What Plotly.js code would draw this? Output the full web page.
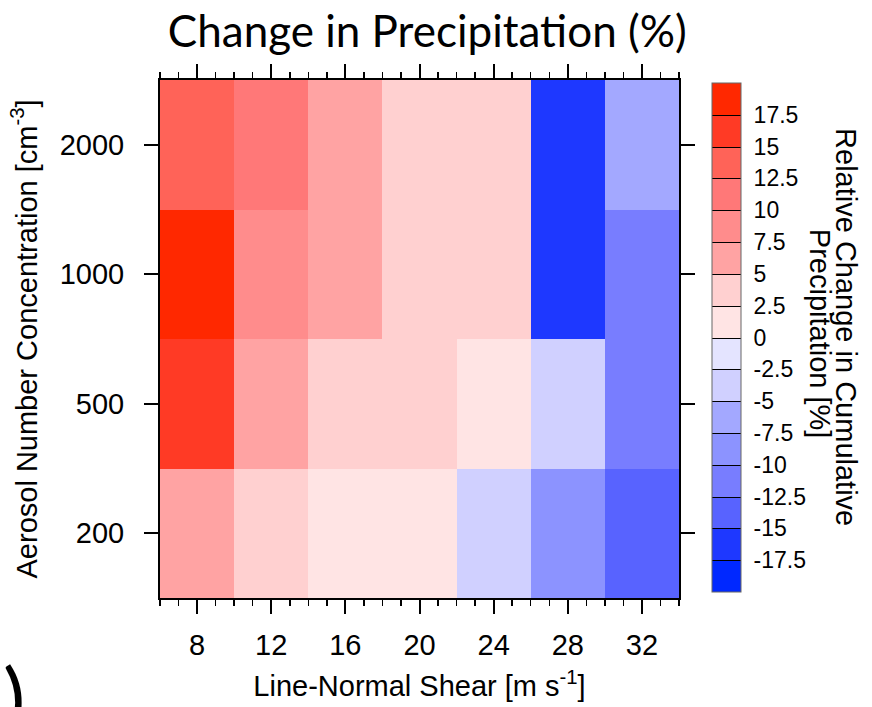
<!DOCTYPE html>
<html>
<head>
<meta charset="utf-8">
<script src="https://cdn.plot.ly/plotly-3.0.1.min.js"></script>
<style>
  html, body { margin: 0; padding: 0; background: #fff; }
  #chart { width: 872px; height: 707px; }
</style>
</head>
<body>
<div id="chart"></div>
<script>
// Line-normal shear (m/s) for each column of the grid
const shear = [8, 12, 16, 20, 24, 28, 32];
// Aerosol number concentration (cm^-3) for each row, bottom to top
const aerosol = ['200', '500', '1000', '2000'];
// Relative change in cumulative precipitation (%), one row per aerosol level
const change200  = [6.0, 3.5, 1.0, 1.0, -3.5, -8.5, -13.5];
const change500  = [16.0, 6.0, 3.5, 3.5, 1.0, -3.5, -11.0];
const change1000 = [18.5, 8.5, 6.0, 3.5, 3.5, -16.0, -11.0];
const change2000 = [13.5, 11.0, 6.0, 3.5, 3.5, -16.0, -6.0];
// Contour levels shown on the colour bar
const levels = [-17.5, -15, -12.5, -10, -7.5, -5, -2.5, 0, 2.5, 5, 7.5, 10, 12.5, 15, 17.5];
const levelLabels = ['-17.5', '-15', '-12.5', '-10', '-7.5', '-5', '-2.5', '0', '2.5', '5', '7.5', '10', '12.5', '15', '17.5'];
// One colour per interval, from below -17.5 up to above 17.5
const bandColors = [
  '#0028ff', '#1e38ff', '#5863ff', '#787dff', '#8c93ff', '#a3a8ff', '#d0d0ff', '#e4e4ff',
  '#ffe4e4', '#ffd0d0', '#ffa3a3', '#ff8c8c', '#ff7878', '#ff6358', '#ff3a25', '#ff2800'
];

const z = [change200, change500, change1000, change2000];
const zLo = -20, zHi = 20;
const nBands = bandColors.length;

// stepped scale for the cells: each 2.5 % interval gets one flat colour
const cellScale = [];
bandColors.forEach((c, i) => {
  cellScale.push([i / nBands, c]);
  cellScale.push([(i + 1) / nBands, c]);
});
// contour-fill scale: one stop per band centre
const barScale = bandColors.map((c, i) => [i / (nBands - 1), c]);

const sans = 'Liberation Sans, Arial, Helvetica, sans-serif';

const cells = {
  type: 'heatmap',
  x: shear,
  y: aerosol,
  z: z,
  zmin: zLo,
  zmax: zHi,
  colorscale: cellScale,
  showscale: false,
  hoverinfo: 'x+y+z'
};

// filled-contour twin of the same grid, kept transparent: it supplies the
// level-separated colour bar
const levelBar = {
  type: 'contour',
  x: shear,
  y: aerosol,
  z: z,
  zmin: zLo,
  zmax: zHi,
  autocontour: false,
  contours: { start: levels[0], end: levels[levels.length - 1], size: 2.5, coloring: 'fill', showlines: true },
  line: { color: '#000', width: 1 },
  colorscale: barScale,
  opacity: 0,
  hoverinfo: 'skip',
  showscale: true,
  colorbar: {
    x: 1.0636, xanchor: 'left', xpad: 0,
    y: 0.503, yanchor: 'middle', ypad: 0,
    lenmode: 'pixels', len: 509,
    thicknessmode: 'pixels', thickness: 29,
    outlinewidth: 1, outlinecolor: '#666',
    tickmode: 'array', tickvals: levels, ticktext: levelLabels,
    ticks: 'outside', ticklen: 8, tickcolor: 'rgba(0,0,0,0)',
    tickfont: { family: sans, size: 23, color: '#000' },
    title: { text: '' }
  }
};

const layout = {
  width: 872,
  height: 707,
  margin: { l: 160, r: 193, t: 80, b: 109, pad: 0 },
  paper_bgcolor: '#fff',
  plot_bgcolor: '#fff',
  showlegend: false,
  font: { family: sans, color: '#000' },
  title: {
    text: 'Change in Precipitation (%)',
    font: { family: 'Lato, Carlito, sans-serif', size: 44, color: '#000' },
    xref: 'paper', x: 0.515, xanchor: 'center',
    yref: 'container', y: 0.956, yanchor: 'middle'
  },
  xaxis: {
    range: [6, 34],
    tickmode: 'array',
    tickvals: shear,
    ticks: 'outside', ticklen: 14, tickwidth: 2, tickcolor: '#000',
    minor: { ticks: 'outside', dtick: 1, tick0: 6, ticklen: 6, tickwidth: 1.5, tickcolor: '#000', showgrid: false },
    ticklabelstandoff: 6,
    tickfont: { family: sans, size: 29 },
    showline: true, linewidth: 2, linecolor: '#000', mirror: 'ticks',
    showgrid: false, zeroline: false,
    title: { text: 'Line-Normal Shear [m s<sup>-1</sup>]', font: { family: sans, size: 29 }, standoff: 16 }
  },
  yaxis: {
    type: 'category',
    categoryorder: 'array',
    categoryarray: aerosol,
    ticks: 'outside', ticklen: 14, tickwidth: 2, tickcolor: '#000',
    ticklabelstandoff: 14,
    tickfont: { family: sans, size: 29 },
    showline: true, linewidth: 2, linecolor: '#000', mirror: 'ticks',
    showgrid: false, zeroline: false,
    title: { text: 'Aerosol Number Concentration [cm<sup>-3</sup>]', font: { family: sans, size: 29 }, standoff: 14 }
  },
  annotations: [
    {
      text: 'Relative Change in Cumulative',
      xref: 'paper', yref: 'paper', x: 1.3218, y: 0.523,
      xanchor: 'center', yanchor: 'middle', textangle: 90, showarrow: false,
      font: { family: sans, size: 29, color: '#000' }
    },
    {
      text: 'Precipitation [%]',
      xref: 'paper', yref: 'paper', x: 1.2717, y: 0.51,
      xanchor: 'center', yanchor: 'middle', textangle: 90, showarrow: false,
      font: { family: sans, size: 29, color: '#000' }
    },
    {
      text: ')',
      xref: 'paper', yref: 'paper', x: -0.281, y: -0.19,
      xanchor: 'center', yanchor: 'middle', showarrow: false,
      font: { family: 'Lato, sans-serif', size: 84, color: '#000' }
    }
  ]
};

Plotly.newPlot('chart', [cells, levelBar], layout, { displayModeBar: false, staticPlot: true });
</script>
</body>
</html>
